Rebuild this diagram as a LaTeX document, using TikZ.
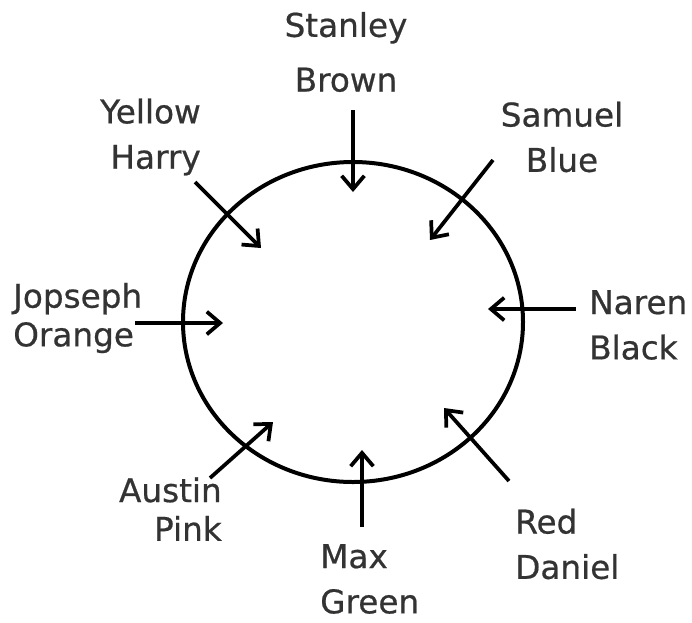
\documentclass[tikz,border=0pt]{standalone}
\usepackage{fontspec}
\setmainfont{DejaVu Sans}
\newfontfamily\namefont[FakeBold=0.6]{DejaVu Sans}
\usetikzlibrary{arrows.meta, positioning}

\begin{document}
\begin{tikzpicture}[
      x=0.75pt, y=-0.75pt,
      person/.style={inner sep=0pt, text=black!80, font=\namefont\fontsize{24.5}{34}\selectfont},
      arrow/.style={-{Straight Barb[length=10pt, width=17pt, line width=2.8pt]}, line width=2.8pt},
      ring/.style={draw, line width=3pt}
    ]
    \useasboundingbox (0,0) rectangle (692,622);

    % the round table
    \draw[ring] (353,322) ellipse [x radius=170, y radius=160];

    % who sits where
    \node[person, align=center, font=\namefont\fontsize{24.5}{41}\selectfont] (stanley) at (346,52) {Stanley\\Brown};
    \node[person, align=center] (samuel) at (562,137) {Samuel\\Blue};
    \node[person, align=left, anchor=west] (naren) at (589,325) {Naren\\Black};
    \node[person, align=left, anchor=west] (red) at (515,544) {Red\\Daniel};
    \node[person, align=left, anchor=west] (max) at (320,579) {Max\\Green};
    \node[person, align=right, anchor=east, font=\namefont\fontsize{24.5}{29}\selectfont] (austin) at (222,509) {Austin\\Pink};
    \node[person, align=left, anchor=west, font=\namefont\fontsize{24.5}{29}\selectfont] (jopseph) at (13,318) {Jopseph\\Orange};
    \node[person, align=right, anchor=east] (yellow) at (201,137) {Yellow\\Harry};

    % arrows into the table
    \coordinate (stanley-a) at (353,110);  \coordinate (stanley-b) at (353,192);
    \coordinate (samuel-a) at (493,160);   \coordinate (samuel-b) at (430,240);
    \coordinate (naren-a) at (576,309);    \coordinate (naren-b) at (488,309);
    \coordinate (red-a) at (509,481);      \coordinate (red-b) at (444,408);
    \coordinate (max-a) at (362,527);      \coordinate (max-b) at (362,450);
    \coordinate (austin-a) at (210,478);   \coordinate (austin-b) at (273,422);
    \coordinate (jopseph-a) at (135,323);  \coordinate (jopseph-b) at (223,323);
    \coordinate (yellow-a) at (195,182);   \coordinate (yellow-b) at (261,248);

    \draw[arrow] (stanley-a) -- (stanley-b);
    \draw[arrow] (samuel-a) -- (samuel-b);
    \draw[arrow] (naren-a) -- (naren-b);
    \draw[arrow] (red-a) -- (red-b);
    \draw[arrow] (max-a) -- (max-b);
    \draw[arrow] (austin-a) -- (austin-b);
    \draw[arrow] (jopseph-a) -- (jopseph-b);
    \draw[arrow] (yellow-a) -- (yellow-b);
  \end{tikzpicture}
\end{document}
